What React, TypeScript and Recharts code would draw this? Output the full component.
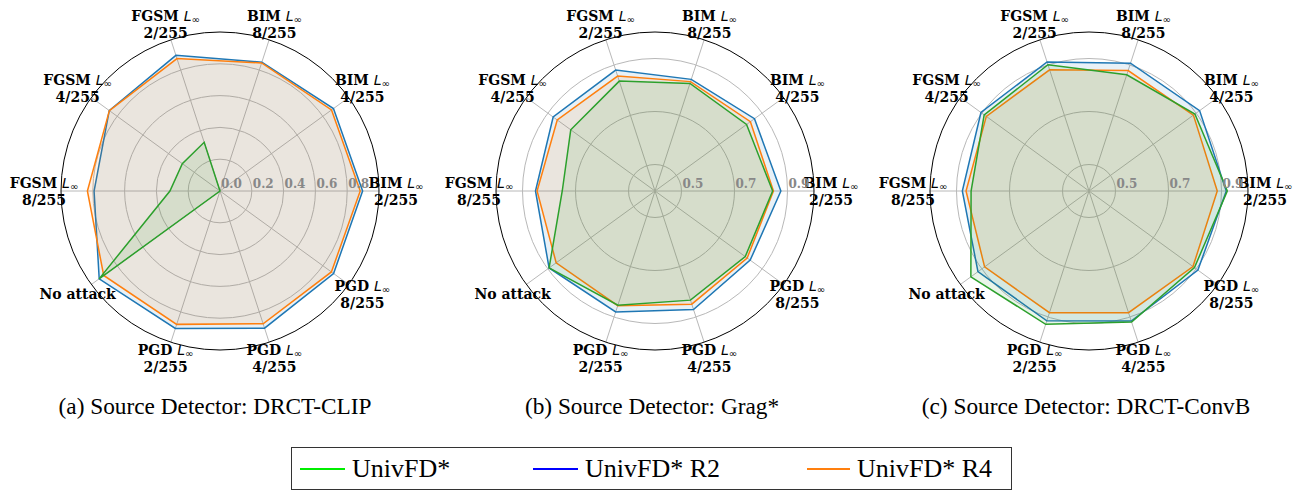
import { RadarChart, PolarGrid, PolarAngleAxis, PolarRadiusAxis, Radar } from 'recharts';

// axis order, counter-clockwise from the right
const methods = ['BIM', 'BIM', 'BIM', 'FGSM', 'FGSM', 'FGSM', 'No attack', 'PGD', 'PGD', 'PGD'];
const budgets = ['2/255', '4/255', '8/255', '2/255', '4/255', '8/255', '', '2/255', '4/255', '8/255'];

// (a) DRCT-CLIP
const clipBase = [0, 0, 0, 0.322, 0.293, 0.315, 0.94, 0, 0, 0];
const clipR2 = [0.897, 0.882, 0.852, 0.897, 0.861, 0.792, 0.939, 0.909, 0.907, 0.883];
const clipR4 = [0.882, 0.867, 0.847, 0.876, 0.86, 0.834, 0.904, 0.882, 0.878, 0.866];

// (b) Grag*
const gragBase = [0.844, 0.827, 0.827, 0.836, 0.793, 0.75, 0.894, 0.853, 0.833, 0.821];
const gragR2 = [0.875, 0.864, 0.843, 0.88, 0.875, 0.851, 0.894, 0.88, 0.87, 0.844];
const gragR4 = [0.847, 0.845, 0.834, 0.856, 0.856, 0.845, 0.861, 0.855, 0.849, 0.83];

// (c) DRCT-ConvB
const convBase = [0.922, 0.894, 0.861, 0.901, 0.889, 0.845, 0.951, 0.929, 0.92, 0.892];
const convR2 = [0.918, 0.916, 0.907, 0.912, 0.904, 0.878, 0.918, 0.915, 0.916, 0.908];
const convR4 = [0.884, 0.887, 0.878, 0.881, 0.879, 0.864, 0.887, 0.883, 0.883, 0.885];

const clipTicks = [0, 0.2, 0.4, 0.6, 0.8];
const zoomTicks = [0.5, 0.7, 0.9];

const legendItems = ['UnivFD*', 'UnivFD* R2', 'UnivFD* R4'];

const SERIF = "'Liberation Serif', 'Times New Roman', serif";
const LABEL_FONT = "'DejaVu Serif', serif";

const CX = 220;
const CY = 191;
const OUTER = 159;
const LABEL_R = 176;
const STEP = 360 / methods.length;

// labels are placed by category index, same angle the radar points use
function AngleTick(props: any) {
  const { payload } = props;
  const i = Number(payload.value);
  const rad = (i * STEP * Math.PI) / 180;
  const x = CX + LABEL_R * Math.cos(rad);
  const y = CY - LABEL_R * Math.sin(rad);
  const m = methods[i];
  const b = budgets[i];
  if (!b) {
    return (
      <text x={x} y={y} textAnchor="middle" dominantBaseline="central" fontFamily={LABEL_FONT} fontWeight="bold" fontSize={14} fill="#000">
        {m}
      </text>
    );
  }
  return (
    <g>
      <text x={x} y={y - 8} textAnchor="middle" dominantBaseline="central" fontFamily={LABEL_FONT} fontWeight="bold" fontSize={14} fill="#000">
        {m + ' '}
        <tspan fontFamily="'DejaVu Sans', sans-serif" fontStyle="italic" fontWeight="normal">L</tspan>
        <tspan fontFamily="'DejaVu Sans', sans-serif" fontWeight="normal" fontSize={10} dy={3}>∞</tspan>
      </text>
      <text x={x} y={y + 9} textAnchor="middle" dominantBaseline="central" fontFamily={LABEL_FONT} fontWeight="bold" fontSize={14} fill="#000">
        {b}
      </text>
    </g>
  );
}

function RadiusTick(props: any) {
  const { x, y, payload } = props;
  return (
    <text x={x + 1} y={y - 3} textAnchor="start" fontFamily={LABEL_FONT} fontWeight="bold" fontSize={12} fill="#888">
      {Number(payload.value).toFixed(1)}
    </text>
  );
}

interface PanelProps {
  center: number;
  base: number[];
  r2: number[];
  r4: number[];
  domain: [number, number];
  ticks: number[];
}

function Panel({ center, base, r2, r4, domain, ticks }: PanelProps) {
  const data = methods.map((m, i) => ({ name: i, base: base[i], r2: r2[i], r4: r4[i] }));
  return (
    <div style={{ position: 'absolute', left: center - CX, top: 0 }}>
      <RadarChart width={440} height={385} data={data} cx={CX} cy={CY} outerRadius={OUTER} startAngle={-STEP} endAngle={360 - STEP}>
        <PolarGrid gridType="circle" stroke="#b8b8b8" strokeWidth={1} />
        <PolarGrid gridType="circle" polarRadius={[OUTER]} radialLines={false} stroke="#000" strokeWidth={1} />
        <PolarAngleAxis dataKey="name" tick={AngleTick} tickLine={false} axisLine={false} />
        <PolarRadiusAxis
          angle={0}
          type="number"
          domain={domain}
          allowDataOverflow
          allowDecimals
          tickCount={4}
          ticks={ticks as any}
          axisLine={false}
          tickLine={false}
          tick={RadiusTick}
        />
        <Radar dataKey="r2" stroke="#1f77b4" fill="#1f77b4" fillOpacity={0.1} strokeWidth={1.5} dot={false} isAnimationActive={false} />
        <Radar dataKey="r4" stroke="#ff7f0e" fill="#ff7f0e" fillOpacity={0.1} strokeWidth={1.5} dot={false} isAnimationActive={false} />
        <Radar dataKey="base" stroke="#2ca02c" fill="#2ca02c" fillOpacity={0.1} strokeWidth={1.5} dot={false} isAnimationActive={false} />
      </RadarChart>
    </div>
  );
}

export default function App() {
  return (
    <div style={{ position: 'absolute', left: 0, top: 0, width: 1309, height: 491, background: '#fff', overflow: 'hidden' }}>
      <Panel center={220} base={clipBase} r2={clipR2} r4={clipR4} domain={[0, 1]} ticks={clipTicks} />
      <Panel center={655} base={gragBase} r2={gragR2} r4={gragR4} domain={[0.4, 1]} ticks={zoomTicks} />
      <Panel center={1089} base={convBase} r2={convR2} r4={convR4} domain={[0.4, 1]} ticks={zoomTicks} />
      <svg width={1309} height={491} style={{ position: 'absolute', left: 0, top: 0, pointerEvents: 'none' }}>
        <g fontFamily={SERIF} fontSize={23.3} fill="#000" textAnchor="middle">
          <text x={215} y={414}>(a) Source Detector: DRCT-CLIP</text>
          <text x={652} y={414}>(b) Source Detector: Grag*</text>
          <text x={1086} y={414}>(c) Source Detector: DRCT-ConvB</text>
        </g>
        <rect x={291.5} y={447.5} width={720} height={42} fill="none" stroke="#333" strokeWidth={1} />
        <line x1={300} y1={469} x2={345} y2={469} stroke="#00ee00" strokeWidth={2} />
        <line x1={533} y1={469} x2={578} y2={469} stroke="#0000ff" strokeWidth={2} />
        <line x1={807} y1={469} x2={850} y2={469} stroke="#ff7f0e" strokeWidth={2} />
        <g fontFamily={SERIF} fontSize={26} fill="#000">
          <text x={352} y={477}>{legendItems[0]}</text>
          <text x={585} y={477}>{legendItems[1]}</text>
          <text x={857} y={477}>{legendItems[2]}</text>
        </g>
      </svg>
    </div>
  );
}
